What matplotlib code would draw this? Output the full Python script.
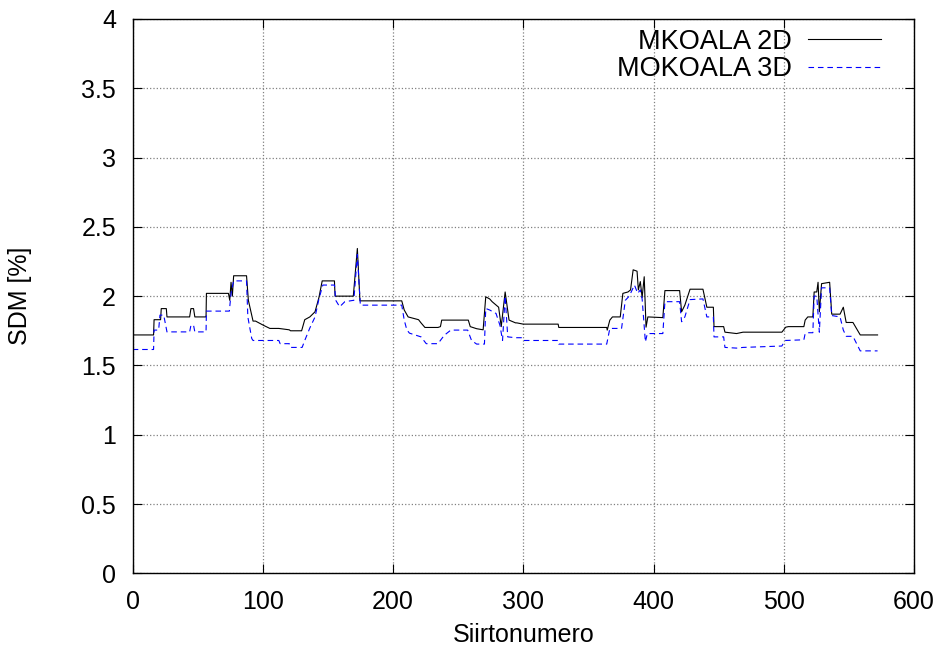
import matplotlib
matplotlib.use('Agg')
import matplotlib.pyplot as plt

plt.rcParams['font.family'] = ['Liberation Sans', 'DejaVu Sans']

# MKOALA 2D (musta, yhtenäinen)
x_2d = [0, 16, 16.4, 21.4, 21.9, 25.8, 26.3, 43.7, 44.7, 46.7, 47.7, 56.3, 56.6, 73.5,
        74.5, 75.5, 76.5, 77.5, 87.4, 88.8, 92.4, 94.3, 100.3, 105.3, 112.2, 120.2, 121.2,
        129.7, 132.1, 136, 140, 143, 145.5, 154.9, 155.4, 169.4, 172.5, 174.5, 206.6,
        208.5, 211.5, 219.5, 221.4, 224.4, 234.4, 236.3, 237.3, 257.7, 259.2, 264.1,
        269.1, 271.1, 274.1, 276, 281, 283, 286, 289, 294, 295, 299.9, 326.7, 327.2,
        364, 364.4, 366.4, 368.4, 374.4, 376.4, 380.3, 382.3, 384.3, 387.3, 388.3, 389.8,
        391.2, 392.8, 394.2, 395.6, 407.1, 408.7, 420, 421.5, 424, 428, 437.9, 440.9,
        445.9, 446.4, 453.8, 454.8, 463.7, 468.7, 498.5, 501.5, 503.5, 515.4, 516.4,
        518.4, 522.3, 523.3, 525.3, 526.3, 527.3, 529, 535.2, 536.8, 543.2, 545.7, 547.9,
        553.1, 558.7, 572]
y_2d = [1.72, 1.72, 1.83, 1.83, 1.91, 1.91, 1.85, 1.85, 1.91, 1.91, 1.85, 1.85, 2.02, 2.02,
        1.97, 2.10, 2.00, 2.147, 2.147, 1.97, 1.82, 1.82, 1.79, 1.767, 1.767, 1.757, 1.75,
        1.75, 1.83, 1.85, 1.887, 1.99, 2.11, 2.11, 2.00, 2.00, 2.344, 1.966, 1.966,
        1.90, 1.85, 1.83, 1.807, 1.774, 1.774, 1.78, 1.827, 1.827, 1.78, 1.765,
        1.757, 1.995, 1.98, 1.96, 1.92, 1.78, 2.03, 1.827, 1.807, 1.807, 1.798, 1.798, 1.774,
        1.774, 1.755, 1.827, 1.85, 1.85, 2.02, 2.03, 2.045, 2.19, 2.18, 2.045, 2.105,
        1.99, 2.14, 1.776, 1.85, 1.845, 2.04, 2.04, 1.887, 1.935, 2.05, 2.05, 1.92,
        1.92, 1.78, 1.78, 1.74, 1.73, 1.74, 1.74, 1.776, 1.78, 1.78, 1.827,
        1.85, 1.85, 2.03, 2.03, 2.10, 1.887, 2.09, 2.10, 1.87, 1.87, 1.92, 1.81,
        1.81, 1.72, 1.72]

# MOKOALA 3D (sininen, katkoviiva)
x_3d = [0, 16, 16.4, 19.9, 20.9, 23.8, 26.3, 43.7, 44.7, 46.7, 47.7, 56.3, 56.6, 74.2,
        75.5, 77.5, 87.4, 88.4, 91.4, 92.4, 112.2, 113.2, 120.2, 121.2, 130.1, 132.1,
        136, 140, 143, 146, 154.9, 155.9, 158.9, 162.9, 169.8, 172.5, 174.8, 206.6,
        208.5, 210.5, 212.5, 221.4, 225.4, 234.4, 239.3, 244.3, 257.2, 260.2, 264.1,
        270.1, 271.1, 274.1, 279, 282, 284, 286, 288, 294, 298.9, 299.9, 326.7, 327.2,
        364, 366.4, 375.4, 378.3, 381.3, 385.3, 387.8, 389.8, 391.2, 393.7, 395.2, 407.1,
        408.7, 420, 421.5, 424, 428, 437.9, 440.9, 445.9, 446.4, 453.8, 454.8, 463.7,
        468.7, 498.5, 501, 515.4, 516.4, 518.4, 522.3, 523.3, 525.3, 527.3, 529, 535.2,
        536.8, 543.2, 545.7, 547.9, 553.1, 558.7, 572]
y_3d = [1.615, 1.615, 1.755, 1.755, 1.863, 1.863, 1.742, 1.742, 1.79, 1.79, 1.742, 1.742, 1.892, 1.892,
        2.02, 2.11, 2.11, 1.85, 1.694, 1.68, 1.68, 1.657, 1.657, 1.63, 1.63, 1.68,
        1.77, 1.85, 1.98, 2.08, 2.08, 1.97, 1.923, 1.96, 1.97, 2.30, 1.935, 1.935,
        1.827, 1.757, 1.733, 1.706, 1.657, 1.657, 1.718, 1.755, 1.755, 1.68, 1.654,
        1.654, 1.911, 1.90, 1.875, 1.79, 1.68, 2.00, 1.706, 1.70, 1.70, 1.68, 1.68, 1.654,
        1.654, 1.767, 1.767, 1.97, 2.00, 2.08, 2.02, 2.045, 1.98, 1.67, 1.73, 1.73,
        1.96, 1.96, 1.815, 1.85, 1.975, 1.98, 1.85, 1.85, 1.706, 1.706, 1.63, 1.625,
        1.63, 1.64, 1.68, 1.685, 1.73, 1.736, 1.736, 2.00, 2.00, 1.74, 2.06, 2.06,
        1.86, 1.85, 1.755, 1.71, 1.71, 1.605, 1.605]

x_ticks = [0, 100, 200, 300, 400, 500, 600]
y_ticks = [0, 0.5, 1, 1.5, 2, 2.5, 3, 3.5, 4]
y_ticklabels = ['0', '0.5', '1', '1.5', '2', '2.5', '3', '3.5', '4']

fig = plt.figure(figsize=(9.42, 6.52), dpi=100)
ax = fig.add_axes([0.1409, 0.1207, 0.8294, 0.8502])

ax.plot(x_2d, y_2d, color='black', lw=0.8, label='MKOALA 2D')
ax.plot(x_3d, y_3d, color='#0000ff', lw=0.8, linestyle=(0, (5, 3.5)), label='MOKOALA 3D')

ax.set_xlim(0, 600)
ax.set_ylim(0, 4)
ax.set_xticks(x_ticks)
ax.set_yticks(y_ticks)
ax.set_yticklabels(y_ticklabels)
ax.tick_params(direction='in', length=6.5, width=0.8, labelsize=18, pad=12,
               top=True, right=True)
ax.grid(True, color='#808080', linestyle=':', lw=0.9)
for s in ax.spines.values():
    s.set_linewidth(1.0)

ax.set_xlabel('Siirtonumero', fontsize=18)
ax.set_ylabel('SDM [%]', fontsize=18)
ax.xaxis.set_label_coords(0.5, -0.090)
ax.yaxis.set_label_coords(-0.129, 0.5)

ax.legend(loc='upper right', bbox_to_anchor=(0.965, 0.992), frameon=False,
          markerfirst=False, fontsize=19.5, handlelength=2.7, handletextpad=0.6,
          labelspacing=0.05, borderaxespad=0, borderpad=0.2)

fig.savefig('out.png', dpi=100)
